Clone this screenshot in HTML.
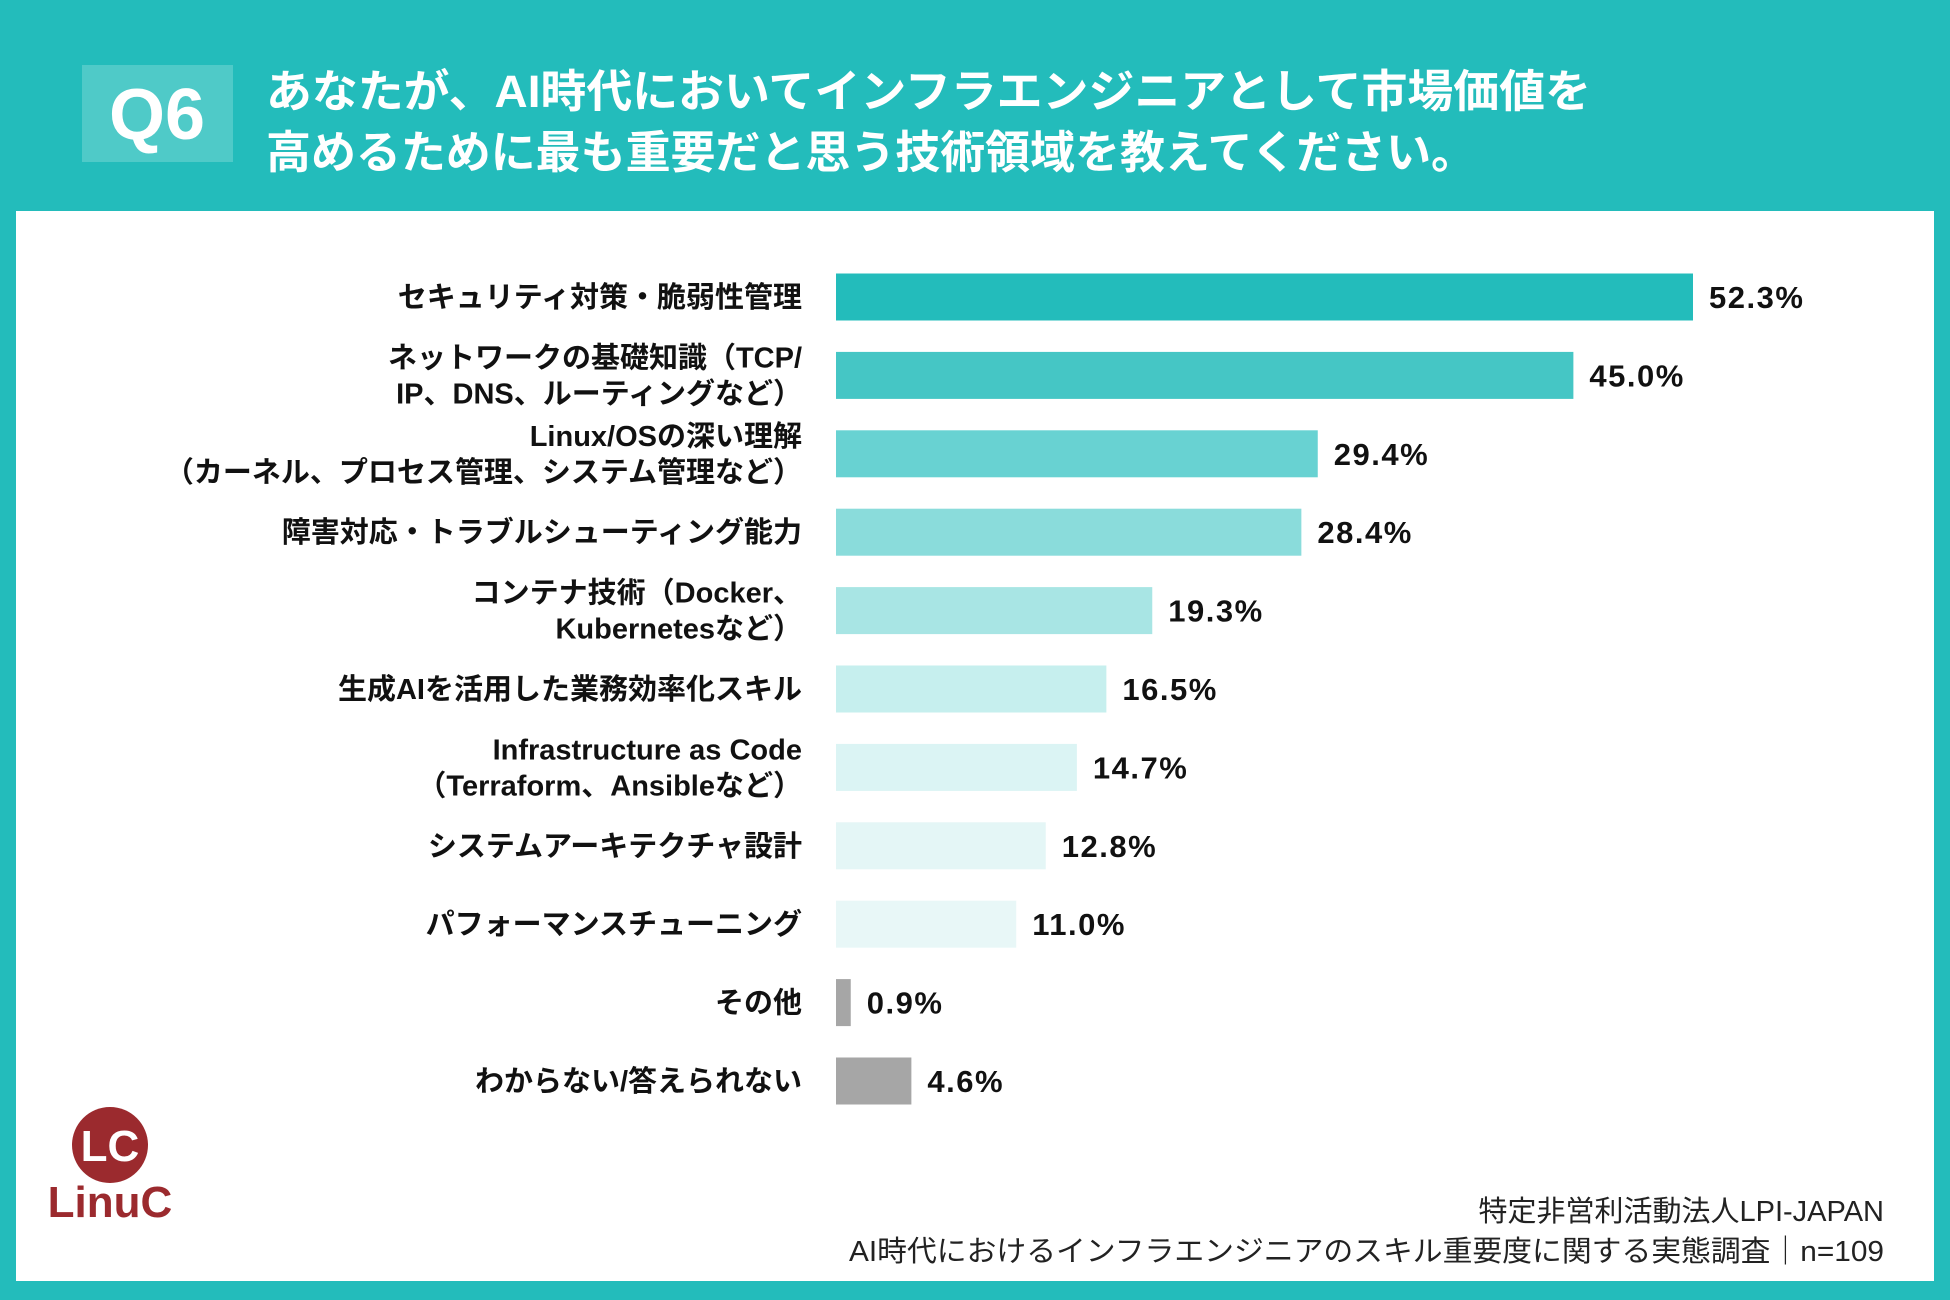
<!DOCTYPE html>
<html><head><meta charset="utf-8"><style>
html,body{margin:0;padding:0;width:1950px;height:1300px;overflow:hidden;background:#23bcbb;}
svg{display:block;font-family:"Liberation Sans","Noto Sans CJK JP",sans-serif;}
</style></head><body>
<svg id="chart" width="1950" height="1300" viewBox="0 0 1950 1300">
<rect x="0" y="0" width="1950" height="1300" fill="#23bcbb"/>
<rect x="82" y="65" width="151" height="97" fill="#4fcac8"/>
<text x="157" y="139" text-anchor="middle" font-size="72" font-weight="bold" fill="#fff">Q6</text>
<text x="266" y="107" font-size="45" font-weight="bold" fill="#fff" textLength="1325" lengthAdjust="spacingAndGlyphs">あなたが、AI時代においてインフラエンジニアとして市場価値を</text>
<text x="266" y="168" font-size="45" font-weight="bold" fill="#fff" textLength="1210" lengthAdjust="spacingAndGlyphs">高めるために最も重要だと思う技術領域を教えてください。</text>
<rect x="16" y="211" width="1918" height="1070" fill="#fff"/>
<g id="bars"></g>
<circle cx="110" cy="1145" r="38" fill="#9b2a2e"/>
<text x="110" y="1161" text-anchor="middle" font-size="44" font-weight="bold" fill="#fff">LC</text>
<text x="110" y="1217" text-anchor="middle" font-size="44" font-weight="bold" fill="#9b2a2e">LinuC</text>
<text x="1884" y="1221" text-anchor="end" font-size="29" fill="#222">特定非営利活動法人LPI-JAPAN</text>
<text x="1884" y="1261" text-anchor="end" font-size="29" fill="#222" textLength="1035" lengthAdjust="spacingAndGlyphs">AI時代におけるインフラエンジニアのスキル重要度に関する実態調査｜n=109</text>
</svg>
<script>
const categories = [
 ["セキュリティ対策・脆弱性管理"],
 ["ネットワークの基礎知識（TCP/","IP、DNS、ルーティングなど）"],
 ["Linux/OSの深い理解","（カーネル、プロセス管理、システム管理など）"],
 ["障害対応・トラブルシューティング能力"],
 ["コンテナ技術（Docker、","Kubernetesなど）"],
 ["生成AIを活用した業務効率化スキル"],
 ["Infrastructure as Code","（Terraform、Ansibleなど）"],
 ["システムアーキテクチャ設計"],
 ["パフォーマンスチューニング"],
 ["その他"],
 ["わからない/答えられない"]
];
const values = [52.3, 45.0, 29.4, 28.4, 19.3, 16.5, 14.7, 12.8, 11.0, 0.9, 4.6];
const valueLabels = ["52.3%","45.0%","29.4%","28.4%","19.3%","16.5%","14.7%","12.8%","11.0%","0.9%","4.6%"];
const colors = ["#23bcbb","#45c6c5","#68d2d2","#8adcdb","#a8e5e4","#c6efee","#dbf4f4","#e4f6f6","#e8f7f7","#a6a6a6","#a6a6a6"];
const NS="http://www.w3.org/2000/svg";
const x0=836, pxPer=(1693-836)/52.3;
function xScale(v){return x0+v*pxPer;}
function yCenter(i){return 297+i*78.4;}
const g=document.getElementById('bars');
values.forEach((v,i)=>{
  const yc=yCenter(i);
  const r=document.createElementNS(NS,'rect');
  r.setAttribute('x',x0);r.setAttribute('y',yc-23.5);
  r.setAttribute('width',xScale(v)-x0);r.setAttribute('height',47);
  r.setAttribute('fill',colors[i]);
  
  
  g.appendChild(r);
  const t=document.createElementNS(NS,'text');
  t.setAttribute('x',xScale(v)+16);t.setAttribute('y',yc+11);
  t.setAttribute('font-size','31');t.setAttribute('font-weight','bold');t.setAttribute('fill','#111');
  t.setAttribute('letter-spacing','1.5');
  t.textContent=valueLabels[i];
  
  
  g.appendChild(t);
  const lines=categories[i];
  lines.forEach((ln,j)=>{
    const c=document.createElementNS(NS,'text');
    const off=lines.length===1?10:(j===0?-8:28);
    c.setAttribute('x',802);c.setAttribute('y',yc+off);
    c.setAttribute('text-anchor','end');c.setAttribute('font-size','29');
    c.setAttribute('font-weight','bold');c.setAttribute('fill','#111');
    c.textContent=ln;
    
    
    g.appendChild(c);
  });
});
</script>
</body></html>
